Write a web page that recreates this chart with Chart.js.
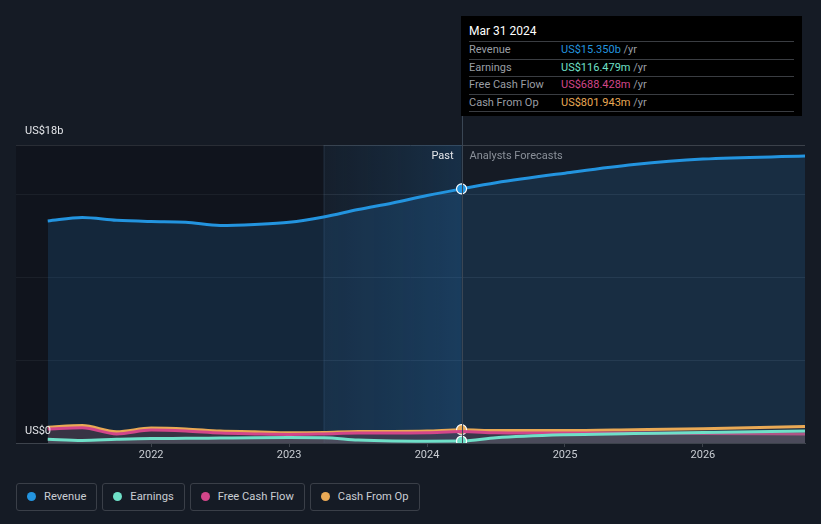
<!DOCTYPE html>
<html lang="en">

<head>
    <meta charset="UTF-8">
    <title>Revenue and earnings forecast</title>
    <script src="https://cdn.jsdelivr.net/npm/chart.js"></script>
    <style>
        body {
            margin: 0;
            background: #151b25;
            font-family: Roboto, "Noto Sans", sans-serif;
            width: 821px;
            height: 524px;
            overflow: hidden;
            position: relative;
        }

        #wrap {
            position: absolute;
            left: 0;
            top: 0;
            width: 821px;
            height: 475px;
        }

        .tip {
            position: absolute;
            left: 461px;
            top: 16px;
            width: 341px;
            height: 100px;
            background: #000;
            color: #fff;
            font-size: 11px;
        }

        .tip .title {
            font-size: 12px;
            padding: 8px 0 0 8px;
            height: 17px;
        }

        .tip .row {
            margin: 0 8px;
            border-top: 1px solid #3a3d42;
            height: 16.5px;
            line-height: 16.5px;
            position: relative;
            color: #9a9ea4;
        }

        .tip .row:last-child {
            border-bottom: 1px solid #3a3d42;
        }

        .tip .row span.v {
            position: absolute;
            left: 92px;
        }

        .tip .row span.u {
            color: #9a9ea4;
        }

        .legend {
            position: absolute;
            top: 483px;
            left: 16px;
            display: flex;
            gap: 5px;
        }

        .legend div {
            border: 1px solid #3a3f48;
            border-radius: 3px;
            height: 26px;
            line-height: 26px;
            padding: 0 10px 0 10px;
            color: #c9cdd3;
            font-size: 11.2px;
        }

        .legend i {
            display: inline-block;
            width: 9px;
            height: 9px;
            border-radius: 50%;
            margin-right: 8px;
            vertical-align: -1px;
        }
    </style>
</head>

<body>
    <div id="wrap"><canvas id="chart"></canvas></div>
    <div class="tip" id="tip"></div>
    <div class="legend" id="legend"></div>
    <script>
        // x values are decimal years (Mar 31 2024 = 2024.25)
        const pastYears = [2021.25, 2021.5, 2021.75, 2022.0, 2022.25, 2022.5, 2022.75, 2023.0, 2023.25, 2023.5, 2023.75, 2024.0, 2024.25];
        const forecastYears = [2024.5, 2025.0, 2025.5, 2026.0, 2026.74];

        const revenuePast = [13.41, 13.62, 13.45, 13.38, 13.34, 13.14, 13.2, 13.33, 13.65, 14.1, 14.5, 14.95, 15.35];
        const revenueForecast = [15.72, 16.3, 16.82, 17.15, 17.33];

        const earningsPast = [0.22, 0.15, 0.22, 0.27, 0.28, 0.3, 0.32, 0.33, 0.32, 0.18, 0.12, 0.11, 0.116];
        const earningsForecast = [0.32, 0.5, 0.57, 0.64, 0.72];

        const fcfPast = [0.85, 0.92, 0.55, 0.78, 0.72, 0.6, 0.55, 0.52, 0.55, 0.6, 0.6, 0.62, 0.688];
        const fcfForecast = [0.62, 0.6, 0.6, 0.58, 0.55];

        const cfoPast = [0.95, 1.05, 0.68, 0.9, 0.85, 0.72, 0.68, 0.62, 0.64, 0.7, 0.7, 0.72, 0.802];
        const cfoForecast = [0.75, 0.75, 0.8, 0.86, 1.0];

        const tickYears = [2022, 2023, 2024, 2025, 2026];
        const yGridValues = [0, 5, 10, 15, 18];
        const nowYear = 2024.25;
        const pastBandStart = 2023.25;

        const seriesNames = ['Revenue', 'Earnings', 'Free Cash Flow', 'Cash From Op'];
        const seriesColors = ['#2394df', '#6fe0c8', '#d2468a', '#e9a955'];
        const tipValues = ['US$15.350b', 'US$116.479m', 'US$688.428m', 'US$801.943m'];

        function pts(past, forecast) {
            const out = past.map((v, i) => ({ x: pastYears[i], y: v }));
            forecast.forEach((v, i) => out.push({ x: forecastYears[i], y: v }));
            return out;
        }

        // higher order = drawn further back
        function mkSet(label, data, color, fill, order, dot) {
            const r = ctx => (dot && ctx.raw && ctx.raw.x === nowYear ? 5 : 0);
            return {
                label: label,
                data: data,
                order: order,
                borderColor: color,
                backgroundColor: fill,
                fill: 'origin',
                borderWidth: 3,
                cubicInterpolationMode: 'monotone',
                pointRadius: r,
                pointHoverRadius: r,
                pointBackgroundColor: color,
                pointBorderColor: '#ffffff',
                pointBorderWidth: 1.2
            };
        }

        const bandPlugin = {
            id: 'bands',
            beforeDatasetsDraw(chart) {
                const { ctx, chartArea: a, scales: { x } } = chart;
                const xb = x.getPixelForValue(pastBandStart);
                const xn = x.getPixelForValue(nowYear);
                ctx.save();
                ctx.fillStyle = 'rgba(8,10,14,0.35)';
                ctx.fillRect(a.left, a.top, xb - a.left, a.bottom - a.top);
                const g = ctx.createLinearGradient(xb, 0, xn, 0);
                g.addColorStop(0, 'rgba(30,90,140,0.08)');
                g.addColorStop(1, 'rgba(30,100,160,0.28)');
                ctx.fillStyle = g;
                ctx.fillRect(xb, a.top, xn - xb, a.bottom - a.top);
                ctx.strokeStyle = 'rgba(70,90,110,0.35)';
                ctx.lineWidth = 1;
                ctx.beginPath();
                ctx.moveTo(xb + 0.5, a.top);
                ctx.lineTo(xb + 0.5, a.bottom);
                ctx.stroke();
                ctx.restore();
            },
            afterDatasetsDraw(chart) {
                const { ctx, chartArea: a, scales: { x, y } } = chart;
                const xn = x.getPixelForValue(nowYear);
                ctx.save();
                ctx.strokeStyle = '#3a4654';
                ctx.lineWidth = 1;
                ctx.beginPath();
                ctx.moveTo(Math.round(xn) + 0.5, 16);
                ctx.lineTo(Math.round(xn) + 0.5, a.bottom);
                ctx.stroke();
                ctx.font = '11px Roboto, sans-serif';
                ctx.textBaseline = 'middle';
                ctx.fillStyle = '#e4e6ea';
                ctx.textAlign = 'right';
                ctx.fillText('Past', xn - 8, a.top + 11);
                ctx.textAlign = 'left';
                ctx.fillStyle = '#8a9099';
                ctx.fillText('Analysts Forecasts', xn + 8, a.top + 11);
                ctx.fillStyle = '#e4e6ea';
                ctx.fillText('US$18b', a.left + 9, y.getPixelForValue(18) - 14);
                ctx.fillText('US$0', a.left + 9, y.getPixelForValue(0) - 12);
                ctx.restore();
            }
        };

        new Chart(document.getElementById('chart'), {
            type: 'line',
            data: {
                datasets: [
                    mkSet('Revenue', pts(revenuePast, revenueForecast), seriesColors[0], 'rgba(35,110,175,0.22)', 4, true),
                    mkSet('Cash From Op', pts(cfoPast, cfoForecast), seriesColors[3], 'rgba(120,80,70,0.18)', 3, true),
                    mkSet('Free Cash Flow', pts(fcfPast, fcfForecast), seriesColors[2], 'rgba(110,70,90,0.25)', 2, false),
                    mkSet('Earnings', pts(earningsPast, earningsForecast), seriesColors[1], 'rgba(110,115,125,0.35)', 1, true)
                ]
            },
            options: {
                responsive: true,
                maintainAspectRatio: false,
                animation: false,
                layout: { padding: { left: 16, right: 16, top: 145, bottom: 0 } },
                plugins: { legend: { display: false }, tooltip: { enabled: false } },
                scales: {
                    x: {
                        type: 'linear',
                        min: 2021.02,
                        max: 2026.74,
                        afterBuildTicks: s => { s.ticks = tickYears.map(v => ({ value: v })); },
                        afterFit: s => { s.height = 32; },
                        ticks: {
                            color: '#c9cdd3',
                            font: { family: 'Roboto', size: 11 },
                            padding: 2,
                            callback: v => String(v)
                        },
                        grid: { display: true, drawOnChartArea: false, drawTicks: true, tickLength: 4, color: '#3d434c' },
                        border: { display: true, color: '#3d434c' }
                    },
                    y: {
                        min: 0,
                        max: 18,
                        afterBuildTicks: s => { s.ticks = yGridValues.map(v => ({ value: v })); },
                        afterFit: s => { s.width = 0; },
                        ticks: { display: false },
                        grid: {
                            drawTicks: false,
                            color: c => c.tick.value === 18 ? '#3b414a' : (c.tick.value === 0 ? 'rgba(0,0,0,0)' : '#262d38')
                        },
                        border: { display: false }
                    }
                }
            },
            plugins: [bandPlugin]
        });

        // tooltip box and legend
        const tip = document.getElementById('tip');
        let html = '<div class="title">Mar 31 2024</div>';
        seriesNames.forEach((n, i) => {
            html += `<div class="row">${n}<span class="v"><span style="color:${seriesColors[i]}">${tipValues[i]}</span><span class="u"> /yr</span></span></div>`;
        });
        tip.innerHTML = html;

        document.getElementById('legend').innerHTML = seriesNames
            .map((n, i) => `<div><i style="background:${seriesColors[i]}"></i>${n}</div>`).join('');
    </script>
</body>

</html>
